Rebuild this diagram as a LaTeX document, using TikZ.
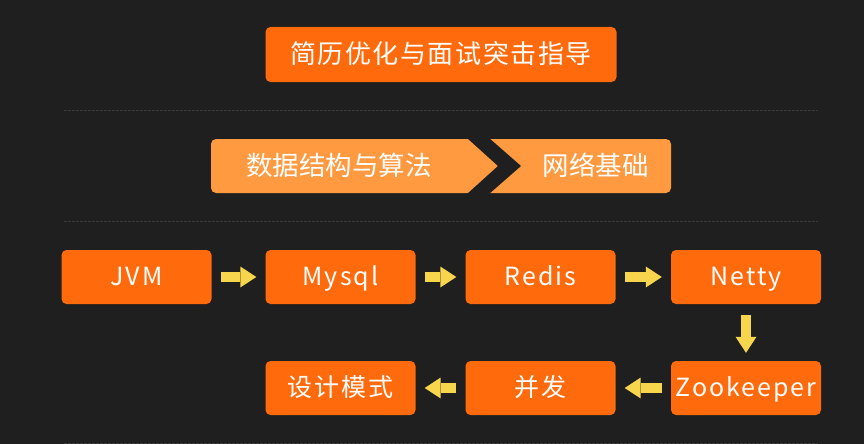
\documentclass[tikz,border=0pt]{standalone}
\usepackage{fontspec}
\setmainfont{Noto Sans CJK SC}
\usetikzlibrary{arrows.meta,positioning}

\definecolor{fondo}{HTML}{1F1F1F}
\definecolor{naranja}{HTML}{FF6A0C}
\definecolor{naranjaclaro}{HTML}{FF9A40}
\definecolor{amarillo}{HTML}{F7D54C}
\definecolor{linea}{HTML}{3A3A3A}

\tikzset{
  caja/.style={fill=naranja, rounded corners=5pt, minimum width=150pt,
    minimum height=54pt, inner sep=0pt, text=white,
    text height=21pt, text depth=3.5pt,
    font=\fontsize{25}{30}\selectfont\addfontfeature{LetterSpace=8}},
  etiqueta/.style={text=white, inner sep=0pt, text height=22pt, text depth=3.5pt,
    font=\fontsize{26.5}{30}\selectfont},
  flecha/.style={amarillo, line width=10pt,
    -{Triangle[length=16pt 0 0,width=21pt 0 0,line width=0pt]},
    shorten <=9pt, shorten >=9pt},
  separador/.style={linea, line width=1pt, dash pattern=on 3pt off 1pt}
}

\begin{document}
\begin{tikzpicture}[x=1pt,y=-1pt]
    % Fondo
    \fill[fondo] (0,0) rectangle (864,444);

    % Titulo
    \node[caja, minimum width=351pt, minimum height=55pt, text height=22pt,
      font=\fontsize{26}{30}\selectfont\addfontfeature{LetterSpace=6}] (guia) at (441,54.5) {简历优化与面试突击指导};

    % Separadores
    \foreach \y in {110,221,443}
        \draw[separador] (64,\y) -- (818,\y);

    % Bases
    \fill[naranjaclaro, rounded corners=5pt] (211,139) rectangle (671,193);
    \fill[fondo] (467,138) -- (489,138) -- (521,166) -- (489,194) -- (467,194) -- (498,166) -- cycle;
    \node[etiqueta] (estructuras) at (339,166) {数据结构与算法};
    \node[etiqueta] (redes) at (595.5,166) {网络基础};

    % Ruta de estudio
    \foreach \nombre/\texto/\x in {jvm/JVM/136.5, mysql/Mysql/340.5, redis/Redis/540.5, netty/Netty/746}
        \node[caja] (\nombre) at (\x,277) {\texto};
    \node[caja] (zookeeper) at (746,388) {Zookeeper};
    \node[caja] (concurrencia) at (540.5,388) {并发};
    \node[caja] (patrones) at (340.5,388) {设计模式};

    % Flechas
    \draw[flecha] (jvm) -- (mysql);
    \draw[flecha] (mysql) -- (redis);
    \draw[flecha] (redis) -- (netty);
    \draw[flecha, shorten <=11pt, shorten >=8pt] (netty) -- (zookeeper);
    \draw[flecha] (zookeeper) -- (concurrencia);
    \draw[flecha] (concurrencia) -- (patrones);
\end{tikzpicture}
\end{document}
